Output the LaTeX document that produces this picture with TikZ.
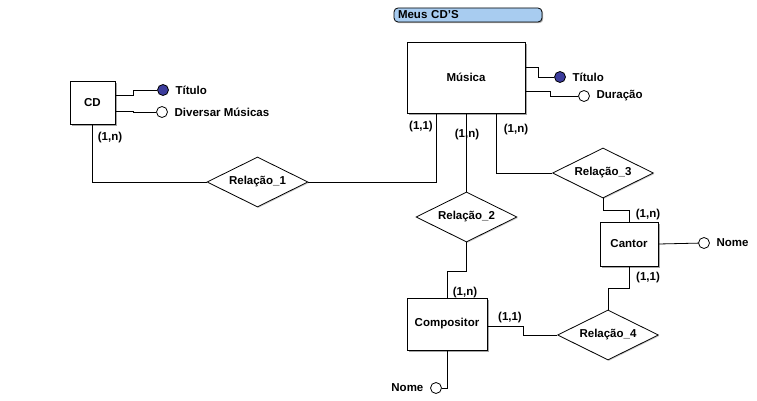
\documentclass[tikz,border=0pt]{standalone}
\usepackage{fontspec}
\setmainfont{Liberation Sans}
\usetikzlibrary{shapes.geometric,shadows}
\definecolor{titleblue}{RGB}{168,204,240}
\definecolor{keyblue}{RGB}{60,60,156}
\tikzset{
  entity/.style={draw,fill=white,inner sep=0pt,drop shadow={shadow xshift=1.6pt,shadow yshift=-1.6pt,fill=gray!70,opacity=1}},
  relation/.style={draw,fill=white,diamond,aspect=2,inner sep=0pt,minimum width=101pt,minimum height=50pt,drop shadow={shadow xshift=1pt,shadow yshift=-1pt,fill=gray!40,opacity=1}},
  attr/.style={draw,circle,fill=white,inner sep=0pt,minimum size=11pt},
  keyattr/.style={attr,fill=keyblue},
  card/.style={inner sep=0pt},
}
\begin{document}
\begin{tikzpicture}[x=1pt,y=-1pt,font=\fontsize{11.5}{13}\selectfont\bfseries,line width=0.8pt]
\useasboundingbox (0,0) rectangle (757,401);
% titulo
\node[draw,rounded corners=4pt,fill=titleblue,minimum width=148pt,minimum height=14pt,inner sep=0pt,text width=140pt,align=left,drop shadow={shadow xshift=1.2pt,shadow yshift=-1.2pt,fill=gray!60,opacity=1}] (titulo) at (468,15) {Meus CD'S};
% entidades
\node[entity,minimum width=118pt,minimum height=71pt] (musica) at (466,77.5) {Música};
\node[entity,minimum width=45pt,minimum height=43pt] (cd) at (92.5,102.5) {CD};
\node[entity,minimum width=80pt,minimum height=52pt] (compositor) at (447,324) {Compositor};
\node[entity,minimum width=58pt,minimum height=44pt] (cantor) at (629,244) {Cantor};
% relacionamentos
\node[relation] (rel1) at (257.5,182) {Relação\_1};
\node[relation] (rel2) at (466.5,217) {Relação\_2};
\node[relation] (rel3) at (603,173) {Relação\_3};
\node[relation] (rel4) at (608,335) {Relação\_4};
% atributos
\node[keyattr,label={[label distance=3pt]right:Título}] (cdtit) at (163,90) {};
\node[attr,label={[label distance=3pt]right:Diversar Músicas}] (cddiv) at (162,112) {};
\node[keyattr,label={[label distance=3pt]right:Título}] (mtit) at (560,77) {};
\node[attr,label={[label distance=3pt]right:Duração}] (mdur) at (584,96) {};
\node[attr,label={[label distance=3pt]left:Nome}] (cnome) at (436,388) {};
\node[attr,label={[label distance=3pt]right:Nome}] (canome) at (704,243) {};
% ligacoes
\draw (cd.east |- 0,95) -- ++(18,0) |- (cdtit);
\draw (cd.east |- 0,111) -- ++(18,0) |- (cddiv);
\draw (musica.east |- 0,67) -- ++(13,0) |- (mtit);
\draw (musica.east |- 0,91) -- ++(25,0) |- (mdur);
\draw (cd.south) |- (rel1.west);
\draw (rel1.east) -| ([xshift=30pt]musica.south west);
\draw (musica.south -| rel2.north) -- (rel2.north);
\draw ([xshift=90pt]musica.south west) |- (rel3.west);
\draw (rel3.south) -- ++(0,12) -| (cantor.north);
\draw (rel2.south) -- ++(0,29) -| (compositor.north);
\draw (compositor.south) |- (cnome);
\draw (compositor.east |- 0,326) -- ++(36,0) |- (rel4.west);
\draw (rel4.north) -- ++(0,-21) -| (cantor.south);
\draw (cantor.east) -- (canome);
% cardinalidades
\node[card] (c1) at (110,138) {(1,n)};
\node[card] (c2) at (421,127) {(1,1)};
\node[card] (c3) at (467,135) {(1,n)};
\node[card] (c4) at (516,130) {(1,n)};
\node[card] (c5) at (648,215) {(1,n)};
\node[card] (c6) at (648,278) {(1,1)};
\node[card] (c7) at (465,293) {(1,n)};
\node[card] (c8) at (510,318) {(1,1)};
\end{tikzpicture}
\end{document}
